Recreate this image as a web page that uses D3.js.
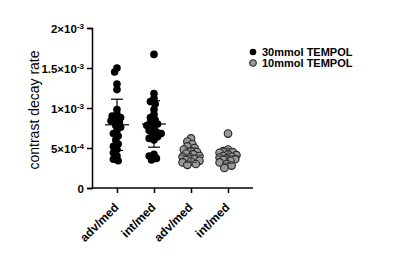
<!DOCTYPE html>
<html>
<head>
<meta charset="utf-8">
<script src="https://cdn.jsdelivr.net/npm/d3@7"></script>
<style>
  body { margin: 0; background: #fff; }
  text { font-family: "Liberation Sans", Arial, sans-serif; }
</style>
</head>
<body>
<div id="container"></div>
<script>
const categories = ['adv/med', 'int/med', 'adv/med', 'int/med']
const groupSeries = ['30mmol TEMPOL', '30mmol TEMPOL', '10mmol TEMPOL', '10mmol TEMPOL']
const seriesNames = ['30mmol TEMPOL', '10mmol TEMPOL']
const seriesFill = { '30mmol TEMPOL': '#000', '10mmol TEMPOL': '#999' }

// values in units of 1e-3
const advMed30 = [1.50, 1.45, 1.30, 1.23, 0.98, 0.92, 0.90, 0.88, 0.86, 0.84, 0.82, 0.78,
    0.76, 0.72, 0.68, 0.65, 0.60, 0.55, 0.52, 0.48, 0.44, 0.40, 0.36, 0.34]
const intMed30 = [1.67, 1.18, 1.12, 1.08, 1.05, 0.98, 0.92, 0.88, 0.85, 0.82, 0.80, 0.78,
    0.75, 0.72, 0.70, 0.68, 0.66, 0.64, 0.62, 0.60, 0.42, 0.40, 0.37, 0.35]
const advMed10 = [0.62, 0.58, 0.55, 0.52, 0.50, 0.48, 0.46, 0.45, 0.43, 0.42, 0.40, 0.39,
    0.38, 0.36, 0.35, 0.34, 0.33, 0.32, 0.30, 0.29]
const intMed10 = [0.68, 0.48, 0.46, 0.45, 0.44, 0.42, 0.41, 0.40, 0.39, 0.38, 0.37, 0.36,
    0.35, 0.34, 0.32, 0.30, 0.28, 0.25]
const groups = [advMed30, intMed30, advMed10, intMed10]

// mean and SD
const means = [0.79, 0.80, 0.41, 0.40]
const sds = [0.32, 0.29, 0.09, 0.09]

const yTicks = [0, 0.5, 1, 1.5, 2]
const yTickLabels = [['0', ''], ['5×10', '-4'], ['1×10', '-3'], ['1.5×10', '-3'], ['2×10', '-3']]

const width = 400
const height = 263
const svg = d3.select('#container').append('svg')
    .attr('width', width).attr('height', height)

const margin = { top: 28, left: 92, bottom: 75, right: 147 }

const xScale = d3.scalePoint()
    .domain(d3.range(categories.length))
    .range([margin.left, width - margin.right])
    .padding(0.675)

const yScale = d3.scaleLinear()
    .domain([0, 2])
    .range([height - margin.bottom, margin.top])

const r = 3.8

// swarm-ish layout, dots may overlap a bit like the original
function swarm(values, maxOff) {
    const placed = []
    const sorted = values.map((v, i) => ({ v, i })).sort((a, b) => b.v - a.v)
    sorted.forEach(p => {
        const y = yScale(p.v)
        let best = null, bestGap = -1
        for (let k = 0; k < 30; k++) {
            const off = (k % 2 === 0 ? 1 : -1) * Math.ceil(k / 2) * 1.2
            if (Math.abs(off) > maxOff) continue
            const gap = placed.length ? d3.min(placed, q => Math.hypot(q.dx - off, q.y - y)) : 99
            if (gap >= r * 1.2) { best = off; break }
            if (gap > bestGap) { bestGap = gap; best = off }
        }
        placed.push({ dx: best, y, v: p.v })
    })
    return placed
}

groups.forEach((vals, gi) => {
    const cx = xScale(gi)
    const fill = seriesFill[groupSeries[gi]]
    svg.append('g').selectAll('circle').data(swarm(vals, 9)).enter().append('circle')
        .attr('cx', d => cx + d.dx)
        .attr('cy', d => d.y)
        .attr('r', r)
        .attr('fill', fill)
        .attr('stroke', gi < 2 ? '#000' : '#222')
        .attr('stroke-width', gi < 2 ? 0 : 1.1)

    // mean and SD
    const lineCol = gi < 2 ? '#000' : '#444'
    const g = svg.append('g').attr('stroke', lineCol).attr('stroke-width', 1.2)
    g.append('line')
        .attr('x1', cx - 12).attr('x2', cx + 12)
        .attr('y1', yScale(means[gi])).attr('y2', yScale(means[gi]))
    g.append('line')
        .attr('x1', cx).attr('x2', cx)
        .attr('y1', yScale(means[gi] - sds[gi])).attr('y2', yScale(means[gi] + sds[gi]))
    ;[means[gi] - sds[gi], means[gi] + sds[gi]].forEach(v => {
        g.append('line')
            .attr('x1', cx - 6).attr('x2', cx + 6)
            .attr('y1', yScale(v)).attr('y2', yScale(v))
    })
})

// y axis
const yAxis = d3.axisLeft(yScale).tickValues(yTicks).tickSize(5).tickFormat('')
const yg = svg.append('g')
    .attr('transform', `translate(${margin.left}, 0)`)
    .call(yAxis)
yg.select('.domain').attr('stroke-width', 1.5)
yg.selectAll('.tick line').attr('stroke-width', 1.5)
yg.selectAll('.tick').append('text')
    .attr('x', -8).attr('dy', '0.38em')
    .attr('fill', '#000')
    .attr('text-anchor', 'end')
    .style('font-size', '11.5px').style('font-weight', 'bold')
    .each(function (d, i) {
        const t = d3.select(this)
        const [base, sup] = yTickLabels[i]
        t.append('tspan').text(base)
        if (sup) t.append('tspan').attr('dy', '-0.45em').style('font-size', '8px').text(sup)
    })

// x axis
const xAxis = d3.axisBottom(xScale).tickSize(5).tickFormat(i => categories[i])
const xg = svg.append('g')
    .attr('transform', `translate(0, ${height - margin.bottom})`)
    .call(xAxis)
xg.select('.domain').attr('d', `M${margin.left},0H${width - margin.right}`).attr('stroke-width', 1.5)
xg.selectAll('.tick line').attr('stroke-width', 1.5)
xg.selectAll('.tick text')
    .attr('fill', '#000')
    .style('font-size', '12px').style('font-weight', 'bold')
    .attr('text-anchor', 'end')
    .attr('dy', 0).attr('y', 0)
    .attr('transform', 'translate(2, 20) rotate(-45)')

// y label
svg.append('text')
    .attr('transform', `translate(39, ${(yScale(0) + yScale(2)) / 2 + 2}) rotate(-90)`)
    .attr('text-anchor', 'middle')
    .attr('fill', '#000')
    .style('font-size', '14px')
    .text('contrast decay rate')

// legend
const legend = svg.append('g').attr('transform', 'translate(253, 52)')
seriesNames.forEach((name, i) => {
    const row = legend.append('g').attr('transform', `translate(0, ${i * 11})`)
    row.append('circle').attr('r', 3.3)
        .attr('fill', seriesFill[name])
        .attr('stroke', '#222').attr('stroke-width', i === 0 ? 0 : 1.1)
    row.append('text').attr('x', 9).attr('dy', '0.38em')
        .style('font-size', '11px').style('font-weight', 'bold')
        .text(name)
})
</script>
</body>
</html>
